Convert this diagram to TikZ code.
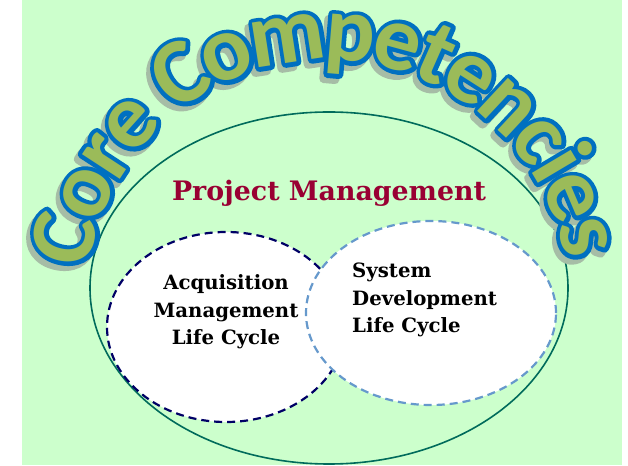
\documentclass[tikz,border=0pt]{standalone}
\usepackage{fontspec}
\usetikzlibrary{decorations.text}
\newfontfamily\wafont{Carlito}
\newfontfamily\gfont{DejaVu Serif}
\definecolor{bggreen}{HTML}{CCFFCC}
\definecolor{teal}{HTML}{006B5B}
\definecolor{navyd}{HTML}{000066}
\definecolor{lblue}{HTML}{6699CC}
\definecolor{pmred}{HTML}{990033}
\definecolor{waout}{HTML}{0070C0}
\definecolor{wafill}{HTML}{9BBB59}
\definecolor{washadow}{HTML}{A6BDA6}
% text render mode 2 = fill + stroke, stroke in the fill colour (fattens the glyph)
\newcommand\fatten{\special{pdf:literal direct 2 Tr 8.5 w 1 j}}
\newcommand\plainglyph{\special{pdf:literal direct 0 Tr}}
\tikzset{
  arcword/.style 2 args={decorate, decoration={text along path,
      text={|\wafont\bfseries\fontsize{93}{93}\selectfont#2|Core Competencies},
      text align={fit to path}, raise=-24pt, text color=#1}},
  pmtext/.style={text=pmred, font=\gfont\bfseries\fontsize{26.8}{32}\selectfont, inner sep=0pt},
  lctext/.style={text=black, font=\gfont\bfseries\fontsize{19.7}{27.5}\selectfont, inner sep=0pt},
  dashring/.style={line width=2.2pt, dash pattern=on 8pt off 5pt, fill=white}
}
\begin{document}
\begin{tikzpicture}[x=1pt,y=1pt]
\useasboundingbox (0,0) rectangle (628,465);
\fill[white] (0,0) rectangle (628,465);
\fill[bggreen] (22,0) rectangle (622,465);
% main ellipse
\draw[teal, line width=1.6pt] (329,177) ellipse [x radius=239pt, y radius=176pt];
% dashed ellipses
\draw[dashring, draw=navyd] (226,138) ellipse [x radius=119pt, y radius=95pt];
\draw[dashring, draw=lblue] (431,152) ellipse [x radius=125pt, y radius=92pt];
% texts
\node[pmtext] (pm) at (329,272) {Project Management};
\node[lctext, align=center] (acq) at (226,153) {Acquisition\\Management\\Life Cycle};
\node[lctext, align=left, anchor=west] (sdlc) at (352,165) {System\\Development\\Life Cycle};
% curved title: shadow, blue outline, green letters
\path[arcword={washadow}{\fatten}, shift={(-4,-5)}] (328,164) ++(172:265pt) arc[start angle=172, end angle=10, radius=265pt];
\path[arcword={waout}{\fatten}] (328,164) ++(172:265pt) arc[start angle=172, end angle=10, radius=265pt];
\path[arcword={wafill}{\plainglyph}] (328,164) ++(172:265pt) arc[start angle=172, end angle=10, radius=265pt];
\end{tikzpicture}
\end{document}
